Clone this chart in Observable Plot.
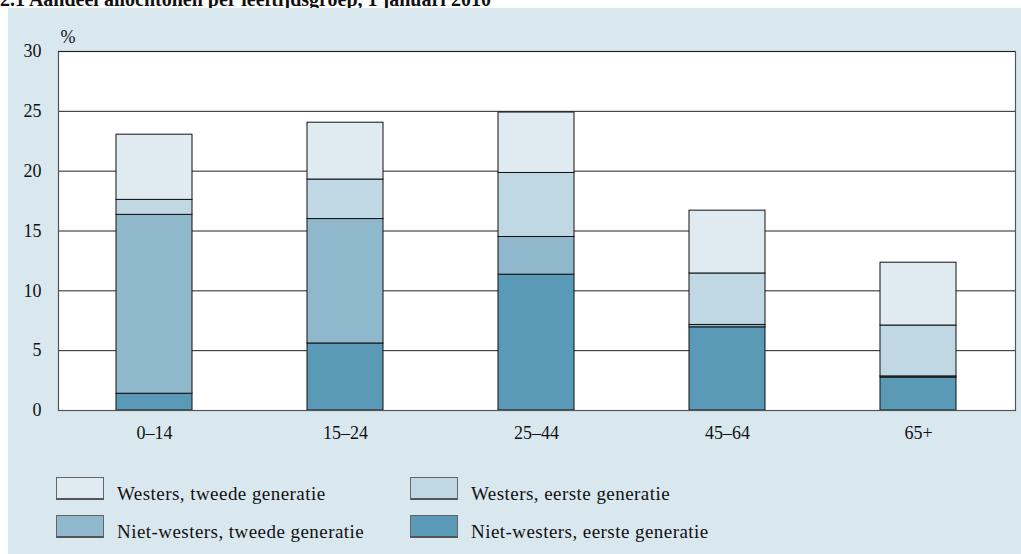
<!DOCTYPE html>
<html>
<head>
<meta charset="utf-8">
<script src="https://cdn.jsdelivr.net/npm/d3@7"></script>
<script src="https://cdn.jsdelivr.net/npm/@observablehq/plot@0.6"></script>
<style>
  html, body { margin: 0; padding: 0; background: #ffffff; overflow: hidden; }
  body { width: 1021px; height: 554px; position: relative; font-family: "Liberation Serif", serif; }
  #title { position: absolute; left: 0; top: -11px; font-weight: bold; font-size: 20px; line-height: 20px; white-space: nowrap; color: #111; z-index: 0; }
  #panel { position: absolute; left: 8px; top: 8px; width: 1013px; height: 546px; background: #d9e7ef; z-index: 1; }
  #chart { position: absolute; left: 0; top: 0; }
  .legend-item { position: absolute; display: flex; align-items: flex-end; font-size: 19px; line-height: 19px; letter-spacing: 0.45px; color: #111; white-space: nowrap; }
  .legend-item span { position: relative; top: 3px; }
  .sw { width: 46px; height: 20px; border: 1px solid #666; border-bottom: 2px solid #555; margin-right: 13px; box-sizing: content-box; }
</style>
</head>
<body>
<div id="title">2.1 Aandeel allochtonen per leeftijdsgroep, 1 januari 2010</div>
<div id="panel">
  <div id="chart"></div>
  <div id="legend"></div>
</div>
<script>
const ageGroups = ["0–14", "15–24", "25–44", "45–64", "65+"];
const seriesNames = [
  "Niet-westers, eerste generatie",
  "Niet-westers, tweede generatie",
  "Westers, eerste generatie",
  "Westers, tweede generatie"
];
const seriesColors = ["#5a9ab7", "#8fb8cc", "#c0d8e3", "#e0ebf1"];
const nietWestersEerste = [1.4, 5.6, 11.35, 6.95, 2.75];
const nietWestersTweede = [14.95, 10.4, 3.15, 0.2, 0.1];
const westersEerste = [1.25, 3.3, 5.35, 4.3, 4.25];
const westersTweede = [5.45, 4.75, 5.05, 5.25, 5.25];
const yTicks = [0, 5, 10, 15, 20, 25, 30];
const gridTicks = [5, 10, 15, 20, 25];

const seriesValues = [nietWestersEerste, nietWestersTweede, westersEerste, westersTweede];
const data = [];
seriesNames.forEach((s, si) => {
  ageGroups.forEach((g, gi) => data.push({group: g, series: s, value: seriesValues[si][gi]}));
});

const plot = Plot.plot({
  width: 1013,
  height: 450,
  marginLeft: 50,
  marginRight: 6,
  marginTop: 43,
  marginBottom: 48,
  style: {fontFamily: "'Liberation Serif', serif", fontSize: "18px", background: "transparent", color: "#111"},
  x: {domain: ageGroups, paddingInner: 0.6, paddingOuter: 0.3, label: null, tickSize: 0, tickPadding: 16},
  y: {domain: [0, 30], ticks: yTicks, label: null, tickSize: 0, tickPadding: 17},
  color: {domain: seriesNames, range: seriesColors},
  marks: [
    Plot.frame({fill: "white", stroke: "none"}),
    Plot.ruleY(gridTicks, {stroke: "#222", strokeWidth: 1}),
    Plot.barY(data, {x: "group", y: "value", fill: "series", z: "series", order: seriesNames, stroke: "#111", strokeWidth: 1}),
    Plot.frame({stroke: "#555", strokeWidth: 1.2}),
    Plot.ruleY([30], {stroke: "#222"}),
    Plot.text(["%"], {frameAnchor: "top-left", dx: 2, dy: -21, textAnchor: "start", fontSize: 18})
  ]
});
document.getElementById("chart").appendChild(plot);

const legend = document.getElementById("legend");
const legendOrder = [3, 2, 1, 0];
const pos = [[48, 469], [402, 469], [48, 507], [402, 507]];
legendOrder.forEach((si, i) => {
  const item = document.createElement("div");
  item.className = "legend-item";
  item.style.left = pos[i][0] + "px";
  item.style.top = pos[i][1] + "px";
  const sw = document.createElement("div");
  sw.className = "sw";
  sw.style.background = seriesColors[si];
  const t = document.createElement("span");
  t.textContent = seriesNames[si];
  item.appendChild(sw);
  item.appendChild(t);
  legend.appendChild(item);
});
</script>
</body>
</html>
